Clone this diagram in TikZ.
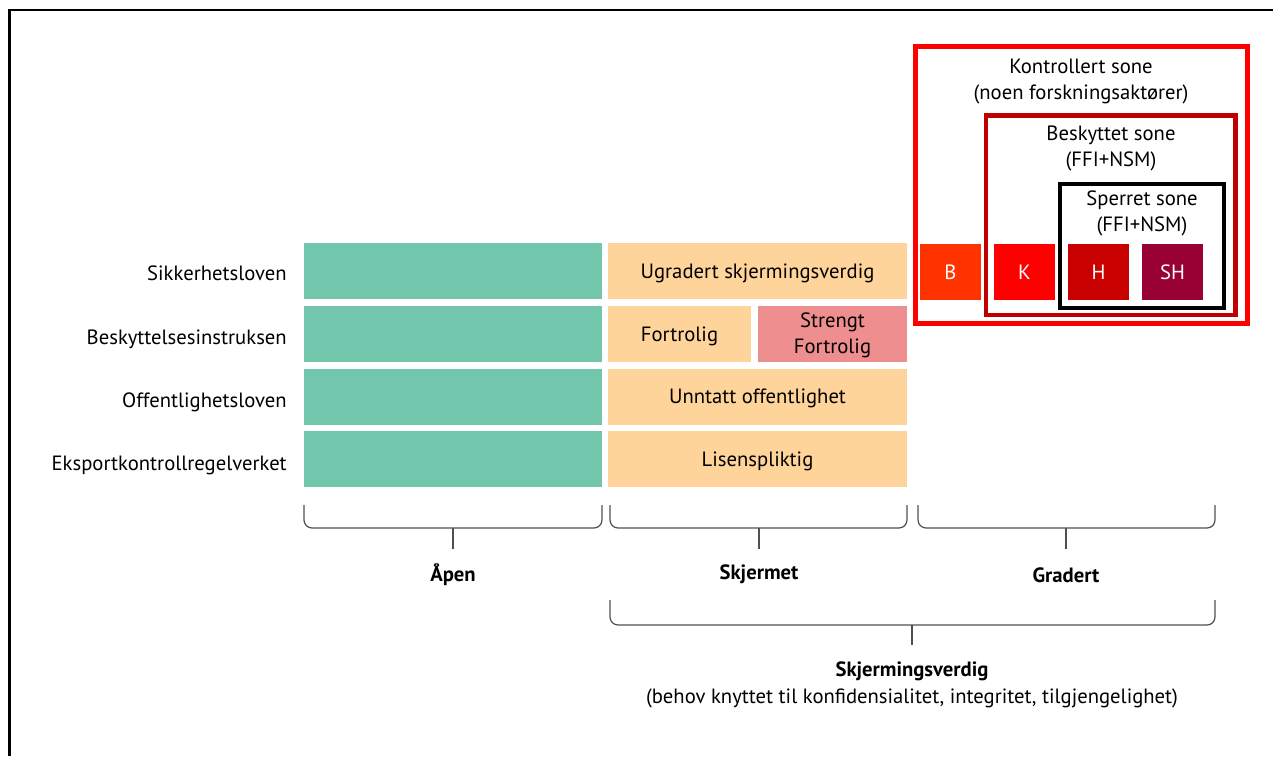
\documentclass[tikz,border=0pt]{standalone}
\usepackage{fontspec}
\setmainfont{PT Sans}
\usetikzlibrary{positioning,calc}

\definecolor{aapen}{HTML}{72C6AB}
\definecolor{skjerm}{HTML}{FFD49A}
\definecolor{strengt}{HTML}{EE8E8E}
\definecolor{gradB}{HTML}{FF3300}
\definecolor{gradK}{HTML}{FF0000}
\definecolor{gradH}{HTML}{C80000}
\definecolor{gradSH}{HTML}{990033}
\definecolor{beskyttet}{HTML}{C00000}
\definecolor{klamme}{HTML}{505050}

\tikzset{
  txt/.style={font=\fontsize{15.5}{19.5}\selectfont},
  cell/.style={txt, minimum height=42pt, inner sep=0pt, align=center},
  celltxt/.style={txt, align=center, inner sep=0pt, yshift=-1.5pt},
  grad/.style={cell, minimum width=45.75pt, text=white},
  lov/.style={txt, anchor=east, inner sep=0pt},
  zone/.style={txt, align=center, inner sep=0pt},
  grp/.style={font=\fontsize{15.5}{19.5}\selectfont\bfseries, inner sep=0pt},
  klammer/.style={draw=klamme, line width=0.9pt, rounded corners=6pt},
  tick/.style={draw=klamme, line width=0.9pt}
}

\begin{document}
\begin{tikzpicture}[x=0.75pt,y=-0.75pt]
\useasboundingbox (0,0) rectangle (1273,756);
\draw [line width=1.75pt] (9.5,756) -- (9.5,10.3) -- (1273,10.3);

% lover
\node (sik) [lov] at (287,273) {Sikkerhetsloven};
\node (bes) [lov] at (287,339) {Beskyttelsesinstruksen};
\node (off) [lov] at (287,402) {Offentlighetsloven};
\node (eks) [lov] at (287,465) {Eksportkontrollregelverket};

% aapen
\foreach \y/\n in {271/1,334/2,396.5/3,459/4}
  \node (a\n) [cell, fill=aapen, minimum width=223.5pt] at (453,\y) {};

% skjermet
\node (ugr) [cell, fill=skjerm, minimum width=224.25pt] at (757.5,271) {};
\node (fort) [cell, fill=skjerm, minimum width=107.25pt] at (679.5,334) {};
\node (sfort) [cell, fill=strengt, minimum width=111.75pt] at (832.5,334) {};
\node (unn) [cell, fill=skjerm, minimum width=224.25pt] at (757.5,396.5) {};
\node (lis) [cell, fill=skjerm, minimum width=224.25pt] at (757.5,459) {};
\node (ugrT) [celltxt] at (ugr) {Ugradert skjermingsverdig};
\node (fortT) [celltxt] at (fort) {Fortrolig};
\node (sfortT) [celltxt, yshift=0.5pt] at (sfort) {Strengt\\Fortrolig};
\node (unnT) [celltxt] at (unn) {Unntatt offentlighet};
\node (lisT) [celltxt] at (lis) {Lisenspliktig};

% soner
\draw [gradK, line width=3.75pt] (915,46.5) rectangle (1247.5,323);
\draw [beskyttet, line width=3.3pt] (986,115.5) rectangle (1235.5,315);
\draw [black, line width=3pt] (1060,183.5) rectangle (1224,308);
\node (kont) [zone] at (1081,82) {Kontrollert sone\\(noen forskningsaktører)};
\node (besk) [zone] at (1111,148) {Beskyttet sone\\(FFI+NSM)};
\node (sper) [zone] at (1142,213) {Sperret sone\\(FFI+NSM)};

% gradert
\node (B) [grad, fill=gradB] at (950.5,272) {B};
\node (K) [grad, fill=gradK] at (1024.5,272) {K};
\node (H) [grad, fill=gradH] at (1098.5,272) {H};
\node (SH) [grad, fill=gradSH] at (1172.5,272) {SH};

% klammer
\node (aap) [grp] at (453,575) {Åpen};
\node (skj) [grp] at (759,574) {Skjermet};
\node (gra) [grp] at (1066,575) {Gradert};
\node (sv) [grp] at (912,671) {Skjermingsverdig};
\node (beh) [zone] at (912,698) {(behov knyttet til konfidensialitet, integritet, tilgjengelighet)};

\draw [klammer] (304,505) -- (304,528) -- (602,528) -- (602,505);
\draw [klammer] (610,505) -- (610,528) -- (907,528) -- (907,505);
\draw [klammer] (918,505) -- (918,528) -- (1215,528) -- (1215,505);
\draw [klammer] (610,600) -- (610,625) -- (1215,625) -- (1215,600);
\coordinate (ta) at (453,528);
\coordinate (ts) at (759,528);
\coordinate (tg) at (1066,528);
\coordinate (tv) at (912,625);
\draw [tick] (ta) -- (ta |- 0,549);
\draw [tick] (ts) -- (ts |- 0,549);
\draw [tick] (tg) -- (tg |- 0,549);
\draw [tick] (tv) -- (tv |- 0,645);
\end{tikzpicture}
\end{document}
